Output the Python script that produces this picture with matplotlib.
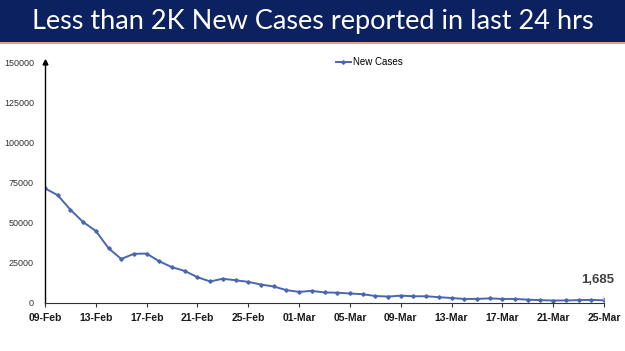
import matplotlib
matplotlib.use("Agg")
import matplotlib.pyplot as plt
from matplotlib.patches import Rectangle

dates = ["09-Feb","10-Feb","11-Feb","12-Feb","13-Feb","14-Feb","15-Feb","16-Feb","17-Feb","18-Feb",
         "19-Feb","20-Feb","21-Feb","22-Feb","23-Feb","24-Feb","25-Feb","26-Feb","27-Feb","28-Feb",
         "01-Mar","02-Mar","03-Mar","04-Mar","05-Mar","06-Mar","07-Mar","08-Mar","09-Mar","10-Mar",
         "11-Mar","12-Mar","13-Mar","14-Mar","15-Mar","16-Mar","17-Mar","18-Mar","19-Mar","20-Mar",
         "21-Mar","22-Mar","23-Mar","24-Mar","25-Mar"]
new_cases = [71365, 67084, 58077, 50407, 44877, 34113, 27409, 30615, 30757, 25920,
             22270, 19968, 16051, 13405, 15102, 14148, 13166, 11499, 10273, 8013,
             6915, 7554, 6561, 6396, 5921, 5476, 4362, 3993, 4575, 4184,
             4194, 3614, 3116, 2503, 2568, 2876, 2539, 2528, 2075, 1761,
             1549, 1581, 1778, 1938, 1685]
y_ticks = [0, 25000, 50000, 75000, 100000, 125000, 150000]
title = "Less than 2K New Cases reported in last 24 hrs"
series_name = "New Cases"

W, H = 625, 351
fig = plt.figure(figsize=(W/100, H/100), dpi=100)
fig.patch.set_facecolor("white")

# banner
fig.patches.append(Rectangle((0, 1-42/H), 1, 42/H, transform=fig.transFigure,
                             facecolor="#0b2160", edgecolor="none", zorder=0))
fig.patches.append(Rectangle((0, 1-44/H), 1, 2/H, transform=fig.transFigure,
                             facecolor="#e8a07a", edgecolor="none", zorder=0))
fig.text(0.5, 1-21/H, title, ha="center", va="center", color="white",
         fontsize=19.5, family="Lato")

ax = fig.add_axes([45/W, 1-303/H, (604-45)/W, (303-62)/H])
x = list(range(len(dates)))
ax.plot(x, new_cases, color="#4a66b0", lw=1.4, marker="D", ms=1.8, label=series_name)
ax.set_xlim(0, len(dates)-1)
ax.set_ylim(0, 150000)
ax.set_yticks(y_ticks)
ax.set_yticklabels([str(v) for v in y_ticks], fontsize=6.5, color="#333333",
                   family="Liberation Sans")
ax.tick_params(axis="y", length=0, pad=8)
tick_idx = list(range(0, len(dates), 4))
ax.set_xticks(tick_idx)
ax.set_xticklabels([dates[i] for i in tick_idx], fontsize=7.5, fontweight="bold",
                   color="#1a1a1a", family="Liberation Sans")
ax.tick_params(axis="x", length=3, width=0.8, pad=4, color="#333333")
for s in ["top", "right"]:
    ax.spines[s].set_visible(False)
ax.spines["left"].set_color("black")
ax.spines["left"].set_linewidth(1.0)
ax.spines["bottom"].set_color("#333333")
ax.spines["bottom"].set_linewidth(0.8)
ax.plot(0, 1.0, marker="^", ms=3.5, color="black", transform=ax.transAxes, clip_on=False)

leg = ax.legend(loc="upper center", bbox_to_anchor=(0.58, 1.055), frameon=False,
                fontsize=7, handlelength=1.5, handletextpad=0.2,
                prop={"family": "Liberation Sans", "size": 7})

ax.annotate(f"{new_cases[-1]:,}", xy=(len(dates)-1, new_cases[-1]),
            xytext=(len(dates)-1.5, 14500), ha="center", va="center",
            fontsize=9.5, fontweight="bold", color="#404040", family="Liberation Sans",
            arrowprops=dict(arrowstyle="-", color="#c8c8c8", lw=0.6, shrinkA=6, shrinkB=0))

fig.savefig("out.png", dpi=100)
